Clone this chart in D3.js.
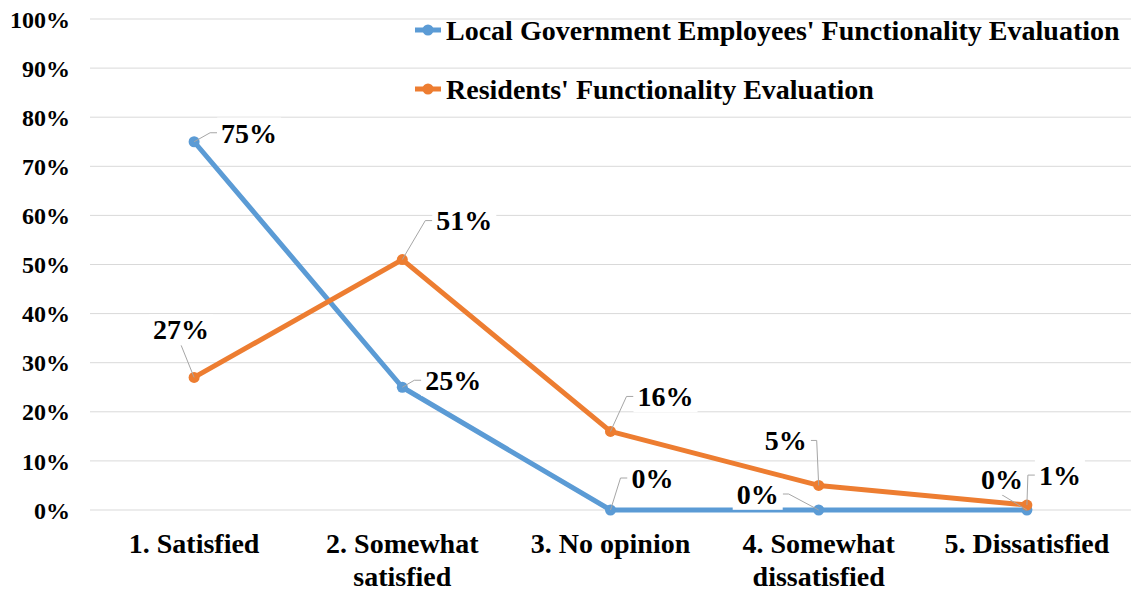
<!DOCTYPE html>
<html>
<head>
<meta charset="utf-8">
<script src="https://cdn.jsdelivr.net/npm/d3@7"></script>
<style>
  html, body { margin: 0; padding: 0; background: #fff; }
  svg { display: block; }
  svg text { font-family: "Liberation Serif", "Times New Roman", "DejaVu Serif", serif !important; font-weight: bold; fill: #000; }
</style>
</head>
<body>
<svg id="chart" width="1135" height="592"></svg>
<script>
// Survey categories and the share of respondents in each
const categories = ["1. Satisfied", "2. Somewhat satisfied", "3. No opinion", "4. Somewhat dissatisfied", "5. Dissatisfied"];
const categoryLines = [["1. Satisfied"], ["2. Somewhat", "satisfied"], ["3. No opinion"], ["4. Somewhat", "dissatisfied"], ["5. Dissatisfied"]];
const employeeValues = [75, 25, 0, 0, 0];
const residentValues = [27, 51, 16, 5, 1];
const seriesNames = ["Local Government Employees' Functionality Evaluation", "Residents' Functionality Evaluation"];
const yTicks = [0, 10, 20, 30, 40, 50, 60, 70, 80, 90, 100];

// Label placement (pixel offsets of each label centre from its point)
const employeeLabelOffsets = [[55, -9], [51, -7], [42, -32], [-61, -16], [-25, -31]];
const residentLabelOffsets = [[-13, -48], [62, -39], [55, -35], [-33, -45], [33, -30]];

const colors = ["#5B9BD5", "#ED7D31"];
const serif = '"Liberation Serif", "Times New Roman", serif';
const svg = d3.select("#chart");

const margin = { left: 90, right: 1131, top: 19, bottom: 510 };
const x = d3.scaleBand().domain(categories).range([margin.left, margin.right]).padding(0);
const y = d3.scaleLinear().domain([0, 100]).range([margin.bottom, margin.top]);
const cx = c => x(c) + x.bandwidth() / 2;

// Horizontal gridlines
svg.append("g").selectAll("line").data(yTicks).join("line")
  .attr("x1", margin.left).attr("x2", margin.right)
  .attr("y1", d => y(d)).attr("y2", d => y(d))
  .attr("stroke", "#D9D9D9").attr("stroke-width", 1);

// Y axis labels
const yAxis = d3.axisLeft(y).tickValues(yTicks).tickFormat(d => d + "%").tickSize(0).tickPadding(0);
const yg = svg.append("g").attr("transform", `translate(70,0)`).call(yAxis)
  .attr("font-family", serif).attr("font-size", 24);
yg.select(".domain").remove();
yg.selectAll("text").attr("dy", "0.34em");

// X axis labels (wrapped)
const xg = svg.append("g");
categories.forEach((c, i) => {
  const t = xg.append("text").attr("text-anchor", "middle").attr("font-size", 28)
    .attr("font-family", serif).attr("x", cx(c)).attr("y", 553);
  categoryLines[i].forEach((ln, j) => {
    t.append("tspan").attr("x", cx(c)).attr("dy", j === 0 ? 0 : 33).text(ln);
  });
});

const series = [
  { name: seriesNames[0], values: employeeValues, offsets: employeeLabelOffsets, color: colors[0] },
  { name: seriesNames[1], values: residentValues, offsets: residentLabelOffsets, color: colors[1] }
];

const line = d3.line().x(d => cx(d.c)).y(d => y(d.v));

series.forEach(s => {
  const pts = categories.map((c, i) => ({ c, v: s.values[i] }));
  svg.append("path").datum(pts).attr("d", line)
    .attr("fill", "none").attr("stroke", s.color).attr("stroke-width", 5)
    .attr("stroke-linejoin", "round").attr("stroke-linecap", "round");
  svg.append("g").selectAll("circle").data(pts).join("circle")
    .attr("cx", d => cx(d.c)).attr("cy", d => y(d.v)).attr("r", 5.5)
    .attr("fill", s.color);
});

// Data labels with white boxes and leader lines
const labelLayer = svg.append("g");
series.forEach(s => {
  categories.forEach((c, i) => {
    const px = cx(c), py = y(s.values[i]);
    const lx = px + s.offsets[i][0], ly = py + s.offsets[i][1];
    const g = labelLayer.append("g");
    const rect = g.append("rect").attr("fill", "#fff");
    const t = g.append("text").attr("x", lx).attr("y", ly).attr("dy", "0.35em")
      .attr("font-family", serif).attr("text-anchor", "middle").attr("font-size", 28)
      .text(s.values[i] + "%");
    const bb = t.node().getBBox();
    const padX = 4, padY = 0;
    const bx0 = bb.x - padX, bx1 = bb.x + bb.width + padX;
    const by0 = bb.y - padY, by1 = bb.y + bb.height + padY;
    rect.attr("x", bx0).attr("y", by0).attr("width", bx1 - bx0).attr("height", by1 - by0);
    let pathPts;
    if (px < bx0) pathPts = [[px, py], [bx0 - 7, ly], [bx0, ly]];
    else if (px > bx1) pathPts = [[px, py], [bx1 + 6, ly], [bx1, ly]];
    else pathPts = [[px, py], [(bx0 + bx1) / 2, by1]];
    g.insert("path", "rect").attr("d", d3.line()(pathPts))
      .attr("fill", "none").attr("stroke", "#A6A6A6").attr("stroke-width", 1);
  });
});

// Legend
const legend = svg.append("g");
[[30, 0], [89, 1]].forEach(([ly, k]) => {
  legend.append("line").attr("x1", 415).attr("x2", 441).attr("y1", ly).attr("y2", ly)
    .attr("stroke", colors[k]).attr("stroke-width", 5);
  legend.append("circle").attr("cx", 428).attr("cy", ly).attr("r", 5.5).attr("fill", colors[k]);
  legend.append("text").attr("x", 446).attr("y", ly).attr("dy", "0.35em")
    .attr("font-family", serif).attr("font-size", 28).text(seriesNames[k]);
});
</script>
</body>
</html>
